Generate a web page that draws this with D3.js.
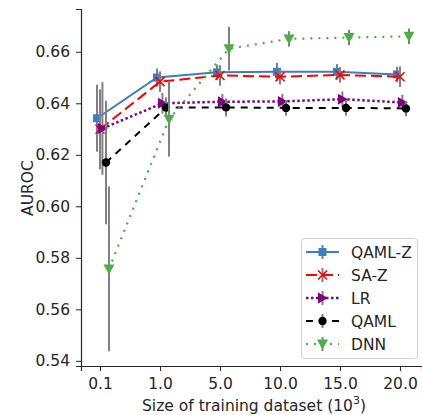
<!DOCTYPE html>
<html><head><meta charset="utf-8">
<script src="https://cdn.jsdelivr.net/npm/d3@7"></script>
<style>body{margin:0;background:#fff}svg{display:block}text{font-family:"DejaVu Sans",sans-serif;fill:#262626}</style>
</head><body>
<svg id="c" width="422" height="415"></svg>
<script>
const categories = ["0.1", "1.0", "5.0", "10.0", "15.0", "20.0"];
const yTicks = [0.54, 0.56, 0.58, 0.60, 0.62, 0.64, 0.66];
const seriesNames = ["QAML-Z", "SA-Z", "LR", "QAML", "DNN"];
const qamlzVals = [0.6342, 0.6500, 0.6520, 0.6522, 0.6522, 0.6512];
const qamlzErr  = [0.013, 0.0035, 0.003, 0.0035, 0.003, 0.003];
const sazVals   = [0.6299, 0.6484, 0.6508, 0.6503, 0.6510, 0.6503];
const sazErr    = [0.0155, 0.004, 0.004, 0.003, 0.003, 0.004];
const lrVals    = [0.6302, 0.6400, 0.6406, 0.6407, 0.6416, 0.6403];
const lrErr     = [0.018, 0.004, 0.003, 0.003, 0.003, 0.003];
const qamlVals  = [0.6170, 0.6383, 0.6384, 0.6382, 0.6382, 0.6380];
const qamlErr   = [0.024, 0.004, 0.0035, 0.003, 0.003, 0.003];
const dnnVals   = [0.5757, 0.6338, 0.6612, 0.6650, 0.6655, 0.6660];
const dnnErr    = [0.032, 0.0145, 0.0085, 0.003, 0.003, 0.003];

const FS = 15.5;
const styles = [
  {color:"#3a7fc1", dash:null, width:2, marker:"square", off:-0.05},
  {color:"#ff0000", dash:"11,5", width:2, marker:"x", off:0},
  {color:"#800080", dash:"2.5,2.5", width:2.5, marker:"tri-right", off:0.04},
  {color:"#000000", dash:"7,6", width:2, marker:"circle", off:0.1},
  {color:"#4caf46", dash:"2,6", width:2.2, marker:"tri-down", off:0.15}
];
const allVals = [qamlzVals, sazVals, lrVals, qamlVals, dnnVals];
const allErr = [qamlzErr, sazErr, lrErr, qamlErr, dnnErr];

const svg = d3.select("#c");
const x = d3.scaleLinear().domain([-0.317, 5.367]).range([81, 422]);
const y = d3.scaleLinear().domain([0.538, 0.6766]).range([366, 9]);

const yAxis = d3.axisLeft(y).tickValues(yTicks).tickFormat(d3.format(".2f")).tickSize(5).tickPadding(6);
const gy = svg.append("g").attr("transform","translate(81,0)").call(yAxis);
const xAxis = d3.axisBottom(x).tickValues(categories.map((c,i)=>i)).tickFormat(i=>categories[i]).tickSize(5).tickPadding(5);
const gx = svg.append("g").attr("transform","translate(0,366)").call(xAxis);
[gx, gy].forEach(g=>{
  g.select(".domain").attr("stroke","#262626").attr("stroke-width",1.2);
  g.selectAll(".tick line").attr("stroke","#262626").attr("stroke-width",1);
  g.selectAll(".tick text").attr("font-size",FS).attr("font-family","DejaVu Sans").attr("fill","#262626");
});
gx.selectAll(".tick text").attr("dy","0.85em");

svg.append("text").attr("transform","translate(33,188) rotate(-90)").attr("text-anchor","middle").attr("font-size",FS).text("AUROC");
const xl = svg.append("text").attr("x",254).attr("y",411).attr("text-anchor","middle").attr("font-size",FS);
xl.append("tspan").text("Size of training dataset (10");
xl.append("tspan").attr("font-size",11).attr("dy",-7).text("3");
xl.append("tspan").attr("dy",7).text(")");

function drawMarker(g, type, cx, cy, color, s){
  s = s || 1;
  if(type==="square") g.append("rect").attr("x",cx-4*s).attr("y",cy-4*s).attr("width",8*s).attr("height",8*s).attr("fill",color);
  else if(type==="circle") g.append("circle").attr("cx",cx).attr("cy",cy).attr("r",4.2*s).attr("fill",color);
  else if(type==="x") g.append("path").attr("d",`M${cx-4.5*s},${cy-4.5*s}L${cx+4.5*s},${cy+4.5*s}M${cx-4.5*s},${cy+4.5*s}L${cx+4.5*s},${cy-4.5*s}`).attr("stroke",color).attr("stroke-width",1.6).attr("fill","none");
  else if(type==="tri-right") g.append("path").attr("d",`M${cx+5.5*s},${cy}L${cx-4.5*s},${cy-5.5*s}L${cx-4.5*s},${cy+5.5*s}Z`).attr("fill",color);
  else if(type==="tri-down") g.append("path").attr("d",`M${cx},${cy+5.5*s}L${cx-5.5*s},${cy-4.5*s}L${cx+5.5*s},${cy-4.5*s}Z`).attr("fill",color);
}

const line = d3.line().x(d=>x(d.i)).y(d=>y(d.v));
allVals.forEach((vals, k)=>{
  const st = styles[k];
  const g = svg.append("g");
  const pts = vals.map((v,i)=>({i:i+st.off, v, e:allErr[k][i]}));
  g.append("path").datum(pts).attr("d",line).attr("fill","none").attr("stroke",st.color)
    .attr("stroke-width",st.width).attr("stroke-dasharray",st.dash);
  g.selectAll("line.err").data(pts).enter().append("line")
    .attr("x1",d=>x(d.i)).attr("x2",d=>x(d.i)).attr("y1",d=>y(d.v-d.e)).attr("y2",d=>y(d.v+d.e))
    .attr("stroke","#808080").attr("stroke-width",2);
  pts.forEach(d=>drawMarker(g, st.marker, x(d.i), y(d.v), st.color));
});

const lg = svg.append("g");
lg.append("rect").attr("x",301.5).attr("y",238.5).attr("width",116).attr("height",120).attr("rx",3)
  .attr("fill","#fff").attr("fill-opacity",0.8).attr("stroke","#d0d0d0");
seriesNames.forEach((n,k)=>{
  const st = styles[k];
  const yy = 252 + k*23;
  lg.append("line").attr("x1",306).attr("x2",339).attr("y1",yy).attr("y2",yy).attr("stroke",st.color)
    .attr("stroke-width",st.width).attr("stroke-dasharray",st.dash);
  lg.append("line").attr("x1",322.5).attr("x2",322.5).attr("y1",yy-7).attr("y2",yy+7).attr("stroke","#808080").attr("stroke-width",2);
  drawMarker(lg, st.marker, 322.5, yy, st.color);
  lg.append("text").attr("x",351).attr("y",yy).attr("dy","0.36em").attr("font-size",FS).text(n);
});
</script>
</body></html>
